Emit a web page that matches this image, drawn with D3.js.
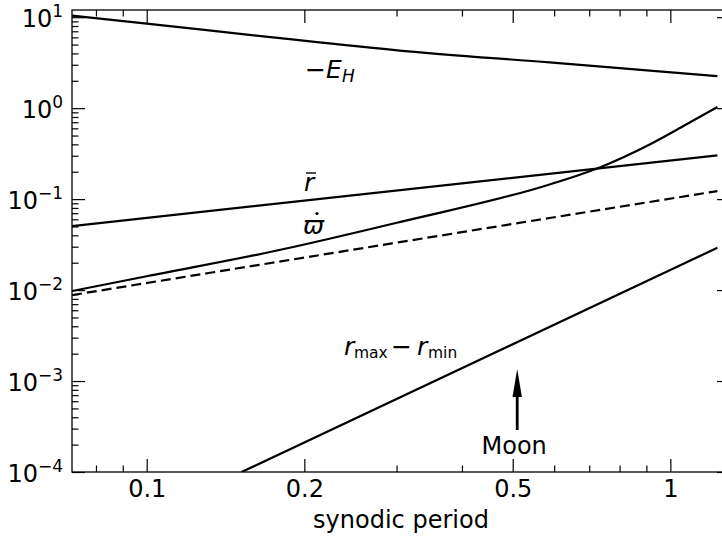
<!DOCTYPE html>
<html>
<head>
<meta charset="utf-8">
<script src="https://cdn.jsdelivr.net/npm/d3@7"></script>
<style>
  html, body { margin: 0; padding: 0; background: #fff; }
  svg { display: block; }
  text { font-family: "DejaVu Sans", sans-serif; fill: #000; }
</style>
</head>
<body>
<svg id="chart" width="722" height="538"></svg>
<script>
// ---- data ----
const xMajorTicks = [0.1, 0.2, 0.5, 1];
const xMinorTicks = [0.08, 0.09, 0.3, 0.4, 0.6, 0.7, 0.8, 0.9];
const xTickLabels = ["0.1", "0.2", "0.5", "1"];
const yMajorTicks = [1e-4, 1e-3, 1e-2, 1e-1, 1e0, 1e1];
const yTickExponents = ["−4", "−3", "−2", "−1", "0", "1"];

const energyX = [0.072, 0.1, 0.174, 0.304, 0.588, 1.23];
const energyY = [10.4, 8.5, 6.0, 4.3, 3.18, 2.25];

const meanRX = [0.072, 1.23];
const meanRY = [0.0505, 0.302];

const precX = [0.072, 0.1, 0.181, 0.304, 0.588, 0.733, 0.913, 1.055, 1.23];
const precY = [0.00976, 0.0142, 0.0279, 0.0559, 0.145, 0.223, 0.399, 0.629, 1.03];

const precApproxX = [0.072, 0.304, 0.588, 1.23];
const precApproxY = [0.00881, 0.0336, 0.062, 0.1225];

const rangeX = [0.1518, 1.23];
const rangeY = [1e-4, 0.0292];

const moonX = 0.51;

// ---- layout ----
const svg = d3.select("#chart");
const L = 72, R = 730, T = 10, B = 472;
const x = d3.scaleLog().domain([0.072, 1.3]).range([L, R]);
const y = d3.scaleLog().domain([1e-4, 12.0]).range([B, T]);

function minorYTicks() {
  const out = [];
  y.ticks().forEach(v => {
    const m = Math.round(v / Math.pow(10, Math.floor(Math.log10(v) + 1e-9)));
    if (m !== 1 && v >= 1e-4 && v <= 12) out.push(v);
  });
  return out;
}
const yMinor = minorYTicks();

svg.append("defs").append("clipPath").attr("id", "plotclip")
  .append("rect").attr("x", L).attr("y", T).attr("width", R - L).attr("height", B - T);

// ticks (all four sides, inward)
function addAxis(axis, transform) {
  const g = svg.append("g").attr("transform", transform).call(axis);
  g.select(".domain").remove();
  g.selectAll(".tick line").attr("stroke", "#000").attr("stroke-width", 1.2);
  return g;
}
const fmtX = d => xTickLabels[xMajorTicks.indexOf(d)];
const gx = addAxis(d3.axisBottom(x).tickValues(xMajorTicks).tickSizeInner(-13).tickSizeOuter(0).tickPadding(8).tickFormat(fmtX), `translate(0,${B})`);
gx.selectAll("text").attr("font-size", 24).attr("font-family", "DejaVu Sans").attr("fill", "#000");
addAxis(d3.axisBottom(x).tickValues(xMinorTicks).tickSizeInner(-6.5).tickSizeOuter(0).tickFormat(""), `translate(0,${B})`);
addAxis(d3.axisTop(x).tickValues(xMajorTicks).tickSizeInner(-13).tickSizeOuter(0).tickFormat(""), `translate(0,${T})`);
addAxis(d3.axisTop(x).tickValues(xMinorTicks).tickSizeInner(-6.5).tickSizeOuter(0).tickFormat(""), `translate(0,${T})`);
addAxis(d3.axisLeft(y).tickValues(yMajorTicks).tickSizeInner(-13).tickSizeOuter(0).tickFormat(""), `translate(${L},0)`);
addAxis(d3.axisLeft(y).tickValues(yMinor).tickSizeInner(-6.5).tickSizeOuter(0).tickFormat(""), `translate(${L},0)`);
addAxis(d3.axisRight(y).tickValues(yMajorTicks).tickSizeInner(-13).tickSizeOuter(0).tickFormat(""), `translate(${R},0)`);
addAxis(d3.axisRight(y).tickValues(yMinor).tickSizeInner(-6.5).tickSizeOuter(0).tickFormat(""), `translate(${R},0)`);

// y tick labels 10^n
yMajorTicks.forEach((v, i) => {
  const t = svg.append("text").attr("x", 63).attr("y", y(v) + 9.5)
    .attr("text-anchor", "end").attr("font-size", 24);
  t.append("tspan").text("10");
  t.append("tspan").attr("font-size", 17).attr("dy", -10).text(yTickExponents[i]);
});

// frame
svg.append("rect").attr("x", L).attr("y", T).attr("width", R - L).attr("height", B - T)
  .attr("fill", "none").attr("stroke", "#000").attr("stroke-width", 1.3);

// curves
const line = d3.line().x(d => x(d[0])).y(d => y(d[1])).curve(d3.curveMonotoneX);
const plot = svg.append("g").attr("clip-path", "url(#plotclip)");
function drawSeries(xs, ys, dashed) {
  plot.append("path").datum(xs.map((v, i) => [v, ys[i]]))
    .attr("d", line).attr("fill", "none").attr("stroke", "#000")
    .attr("stroke-width", 2.2)
    .attr("stroke-dasharray", dashed ? "10,5" : null);
}
drawSeries(energyX, energyY, false);
drawSeries(meanRX, meanRY, false);
drawSeries(precX, precY, false);
drawSeries(precApproxX, precApproxY, true);
drawSeries(rangeX, rangeY, false);

// curve labels
function lbl(xp, yp, txt, size, italic) {
  return svg.append("text").attr("x", xp).attr("y", yp).attr("font-size", size)
    .attr("font-style", italic ? "italic" : "normal").text(txt);
}
// −E_H
lbl(305, 78, "−", 25, false);
lbl(326, 78, "E", 25, true);
lbl(342, 82, "H", 17, true);
// r bar
lbl(304, 191, "r", 25, true);
svg.append("line").attr("x1", 306).attr("x2", 316).attr("y1", 173).attr("y2", 173)
  .attr("stroke", "#000").attr("stroke-width", 1.4);
// varpi dot
lbl(303, 234, "ϖ", 25, true);
svg.append("circle").attr("cx", 317).attr("cy", 213.5).attr("r", 1.6).attr("fill", "#000");
// r_max − r_min
lbl(344, 355, "r", 25, true);
lbl(354, 358, "max", 15.5, false);
lbl(391, 355, "−", 25, false);
lbl(417, 355, "r", 25, true);
lbl(428, 358, "min", 15.5, false);

// Moon arrow
const ax = x(moonX);
svg.append("line").attr("x1", ax).attr("x2", ax).attr("y1", 430).attr("y2", 392)
  .attr("stroke", "#000").attr("stroke-width", 2.8);
svg.append("path").attr("d", `M${ax},369 L${ax - 4.7},397 L${ax + 4.7},397 Z`).attr("fill", "#000");
svg.append("text").attr("x", ax - 3).attr("y", 454).attr("text-anchor", "middle")
  .attr("font-size", 24).text("Moon");

// x axis label
svg.append("text").attr("x", 401).attr("y", 528).attr("text-anchor", "middle")
  .attr("font-size", 24).text("synodic period");
</script>
</body>
</html>
